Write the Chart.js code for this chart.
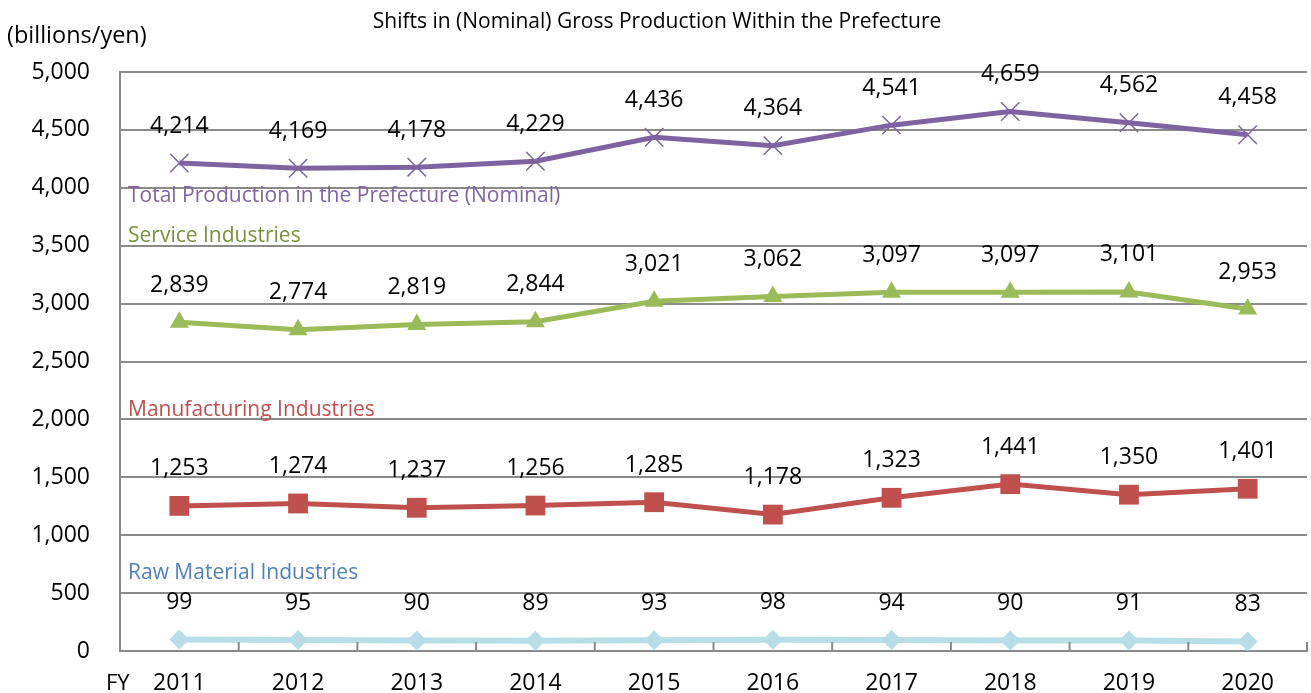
<!DOCTYPE html>
<html lang="en">
  <head>
    <meta charset="UTF-8" />
    <title>Shifts in (Nominal) Gross Production Within the Prefecture</title>
    <script src="https://cdn.jsdelivr.net/npm/chart.js"></script>
    <style>
      html, body { margin: 0; padding: 0; background: #fff; overflow: hidden; }
      canvas { display: block; }
    </style>
  </head>
  <body>
    <canvas id="grafico" width="1311" height="693"></canvas>

    <script>
      const years = ['2011', '2012', '2013', '2014', '2015', '2016', '2017', '2018', '2019', '2020'];
      const totalProd = [4214, 4169, 4178, 4229, 4436, 4364, 4541, 4659, 4562, 4458];
      const serviceInd = [2839, 2774, 2819, 2844, 3021, 3062, 3097, 3097, 3101, 2953];
      const manufInd = [1253, 1274, 1237, 1256, 1285, 1178, 1323, 1441, 1350, 1401];
      const rawInd = [99, 95, 90, 89, 93, 98, 94, 90, 91, 83];
      const seriesNames = [
        'Total Production in the Prefecture (Nominal)',
        'Service Industries',
        'Manufacturing Industries',
        'Raw Material Industries'
      ];
      const yTicks = [0, 500, 1000, 1500, 2000, 2500, 3000, 3500, 4000, 4500, 5000];

      const FONT = '"Open Sans", "Noto Sans", sans-serif';
      const gridColor = '#8a8a8a';

      // nombres de serie dentro del area (valor del eje y donde va cada texto)
      const nameAnchors = [
        { value: 3930, color: '#8064A2' },
        { value: 3585, color: '#77933C' },
        { value: 2080, color: '#C0504D' },
        { value: 675, color: '#4F81BD' }
      ];

      const textPlugin = {
        id: 'textos',
        afterDraw(chart) {
          const ctx = chart.ctx;
          const area = chart.chartArea;
          const ys = chart.scales.y;
          const xs = chart.scales.x;
          ctx.save();

          // titulo y unidad
          ctx.fillStyle = '#000';
          ctx.textBaseline = 'middle';
          ctx.textAlign = 'center';
          ctx.font = '21px ' + FONT;
          ctx.fillText('Shifts in (Nominal) Gross Production Within the Prefecture', 657, 22);
          ctx.textAlign = 'left';
          ctx.font = '23.5px ' + FONT;
          ctx.fillText('(billions/yen)', 7, 36);
          ctx.font = '22px ' + FONT;
          ctx.fillText('FY', 106, 684);

          // marcas del eje x hacia dentro
          const step = xs.getPixelForValue(1) - xs.getPixelForValue(0);
          ctx.strokeStyle = gridColor;
          ctx.lineWidth = 2;
          for (let i = 0; i <= years.length; i++) {
            const x = xs.getPixelForValue(0) - step / 2 + i * step;
            ctx.beginPath();
            ctx.moveTo(x, area.bottom - 9);
            ctx.lineTo(x, area.bottom);
            ctx.stroke();
          }

          // nombres de las series
          ctx.font = '21px ' + FONT;
          ctx.textAlign = 'left';
          nameAnchors.forEach((a, i) => {
            ctx.fillStyle = a.color;
            ctx.fillText(seriesNames[i], area.left + 8, ys.getPixelForValue(a.value));
          });

          // etiquetas de valores
          ctx.fillStyle = '#000';
          ctx.textAlign = 'center';
          ctx.font = '23px ' + FONT;
          chart.data.datasets.forEach((ds, di) => {
            chart.getDatasetMeta(di).data.forEach((pt, i) => {
              ctx.fillText(ds.data[i].toLocaleString('en-US'), pt.x, pt.y - 37);
            });
          });
          ctx.restore();
        }
      };

      const chart = new Chart(document.getElementById('grafico').getContext('2d'), {
        type: 'line',
        data: {
          labels: years,
          datasets: [
            {
              label: seriesNames[0],
              data: totalProd,
              borderColor: '#7F63A1',
              backgroundColor: '#7F63A1',
              borderWidth: 5,
              pointStyle: 'crossRot',
              pointRadius: 13,
              pointBorderWidth: 1.5,
              tension: 0
            },
            {
              label: seriesNames[1],
              data: serviceInd,
              borderColor: '#9BBB59',
              backgroundColor: '#9BBB59',
              borderWidth: 5,
              pointStyle: 'triangle',
              pointRadius: 11,
              pointBorderWidth: 0,
              tension: 0
            },
            {
              label: seriesNames[2],
              data: manufInd,
              borderColor: '#C0504D',
              backgroundColor: '#C0504D',
              borderWidth: 5,
              pointStyle: 'rect',
              pointRadius: 14,
              pointBorderWidth: 0,
              tension: 0
            },
            {
              label: seriesNames[3],
              data: rawInd,
              borderColor: '#B7DEE8',
              backgroundColor: '#B7DEE8',
              borderWidth: 6,
              pointStyle: 'rectRot',
              pointRadius: 10,
              pointBorderWidth: 0,
              tension: 0
            }
          ]
        },
        options: {
          responsive: false,
          animation: false,
          layout: { autoPadding: false, padding: { top: 72, right: 4, left: 0, bottom: 0 } },
          plugins: {
            legend: { display: false },
            tooltip: { enabled: false },
            title: { display: false }
          },
          scales: {
            x: {
              offset: true,
              grid: { display: false, drawTicks: false },
              border: { display: true, color: gridColor, width: 2 },
              ticks: { color: '#000', font: { family: FONT, size: 23 }, padding: 19, maxRotation: 0 },
              afterFit(scale) {
                scale.height = 42;
                scale.paddingLeft = 0;
                scale.paddingRight = 0;
              }
            },
            y: {
              min: 0,
              max: 5000,
              afterBuildTicks(scale) { scale.ticks = yTicks.map(v => ({ value: v })); },
              grid: { color: gridColor, lineWidth: 2, drawTicks: false },
              border: { display: true, color: gridColor, width: 2 },
              ticks: {
                color: '#000',
                font: { family: FONT, size: 23 },
                padding: 30,
                callback: v => v.toLocaleString('en-US')
              },
              afterFit(scale) {
                scale.width = 120;
                scale.paddingTop = 0;
                scale.paddingBottom = 0;
              }
            }
          }
        },
        plugins: [textPlugin]
      });
    </script>
  </body>
</html>
